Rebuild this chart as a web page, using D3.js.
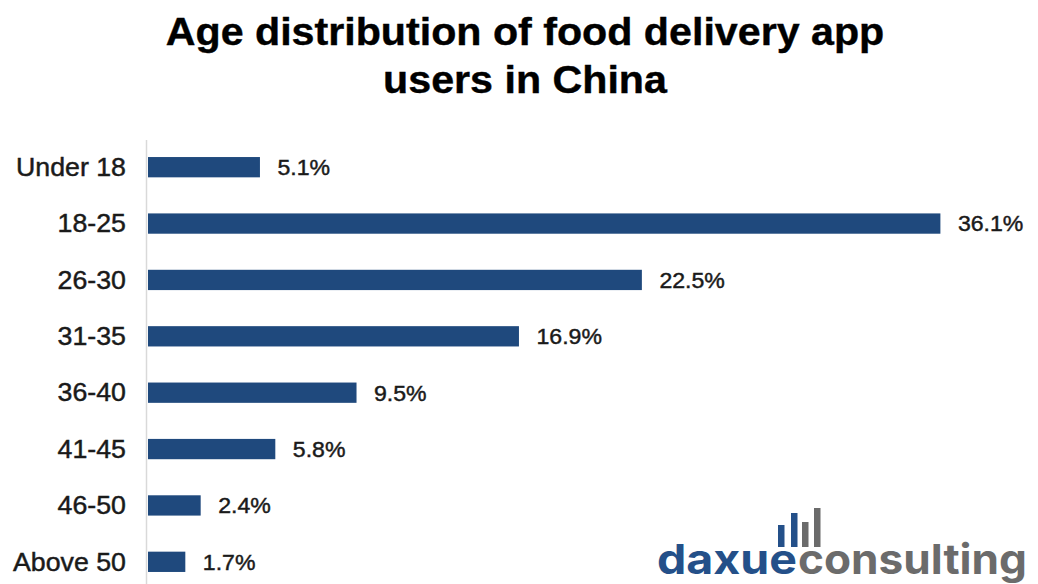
<!DOCTYPE html>
<html>
<head>
<meta charset="utf-8">
<script src="https://cdn.jsdelivr.net/npm/d3@7"></script>
<style>
  html, body { margin: 0; padding: 0; background: #fff; }
  svg { display: block; }
</style>
</head>
<body>
<svg id="chart" width="1038" height="584"></svg>
<script>
// Age groups and share of food delivery app users (%)
const ageGroups = ["Under 18", "18-25", "26-30", "31-35", "36-40", "41-45", "46-50", "Above 50"];
const userShare = [5.1, 36.1, 22.5, 16.9, 9.5, 5.8, 2.4, 1.7];
const titleLines = ["Age distribution of food delivery app", "users in China"];

const W = 1038, H = 584;
const svg = d3.select("#chart");
const barColor = "#1f497d";
const textStretch = 1.07; // slightly wide lettering

const x = d3.scaleLinear().domain([0, 40]).range([148, 1026]);
const y = d3.scaleBand().domain(ageGroups).range([139, 590])
  .paddingInner(0.64).paddingOuter(0.32);

// Title
const title = svg.append("g").attr("class", "title");
titleLines.forEach((line, i) => {
  title.append("g")
    .attr("transform", `translate(525,${45 + i * 48}) scale(${textStretch},1)`)
    .append("text")
    .attr("text-anchor", "middle")
    .attr("font-family", "'Liberation Sans', Arial, sans-serif")
    .attr("font-weight", "bold")
    .attr("font-size", 38.5)
    .attr("fill", "#000")
    .attr("stroke", "#000").attr("stroke-width", 0.4)
    .text(line);
});

// Vertical category axis line
svg.append("line")
  .attr("x1", 146.5).attr("x2", 146.5)
  .attr("y1", 140).attr("y2", H)
  .attr("stroke", "#d9d9d9").attr("stroke-width", 1.5);

// Category labels via a left axis
const axis = d3.axisLeft(y).tickSize(0).tickPadding(0);
const axisG = svg.append("g").attr("transform", "translate(126,0)").call(axis);
axisG.select(".domain").remove();
axisG.selectAll(".tick text")
  .attr("x", 0)
  .attr("dy", "0.35em")
  .attr("transform", `scale(${textStretch},1)`)
  .attr("font-family", "'Liberation Sans', Arial, sans-serif")
  .attr("font-size", 25)
  .attr("fill", "#1a1a1a")
  .attr("stroke", "#1a1a1a").attr("stroke-width", 0.45);

const data = ageGroups.map((g, i) => ({ group: g, value: userShare[i] }));

// Bars
svg.append("g").selectAll("rect").data(data).join("rect")
  .attr("x", x(0))
  .attr("y", d => y(d.group))
  .attr("width", d => x(d.value) - x(0))
  .attr("height", y.bandwidth())
  .attr("fill", barColor);

// Value labels
svg.append("g").selectAll("g").data(data).join("g")
  .attr("transform", d => `translate(${x(d.value) + 17.5},${y(d.group) + y.bandwidth() / 2}) scale(1.05,1)`)
  .append("text")
  .attr("dy", "0.36em")
  .attr("font-family", "'Liberation Sans', Arial, sans-serif")
  .attr("font-size", 22)
  .attr("fill", "#1a1a1a")
  .attr("stroke", "#1a1a1a").attr("stroke-width", 0.45)
  .text(d => d.value.toFixed(1) + "%");

// Logo: bar icon + wordmark
const logo = svg.append("g").attr("class", "logo");
const iconBars = [
  { x: 778, top: 525, color: "#245089" },
  { x: 791, top: 513, color: "#245089" },
  { x: 802, top: 522, color: "#6b6b6b" },
  { x: 814, top: 508, color: "#6b6b6b" }
];
logo.selectAll("rect").data(iconBars).join("rect")
  .attr("x", d => d.x).attr("y", d => d.top)
  .attr("width", 6.5).attr("height", d => 547 - d.top)
  .attr("fill", d => d.color);

const logoFont = "Inter, 'Noto Sans', sans-serif";
logo.append("text")
  .attr("x", 657).attr("y", 574)
  .attr("font-family", logoFont).attr("font-weight", 700).attr("font-size", 41)
  .attr("textLength", 140).attr("lengthAdjust", "spacingAndGlyphs")
  .attr("fill", "#245089")
  .text("daxue");
logo.append("text")
  .attr("x", 798).attr("y", 574)
  .attr("font-family", logoFont).attr("font-weight", 700).attr("font-size", 41)
  .attr("textLength", 229).attr("lengthAdjust", "spacingAndGlyphs")
  .attr("fill", "#6b6b6b")
  .text("consulting");
</script>
</body>
</html>
